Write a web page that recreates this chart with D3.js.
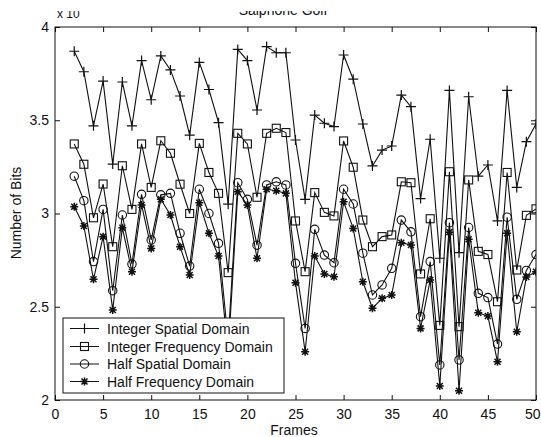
<!DOCTYPE html>
<html>
<head>
<meta charset="utf-8">
<script src="https://cdn.jsdelivr.net/npm/d3@7"></script>
<style>
  html, body { margin: 0; padding: 0; background: #fff; }
  svg { display: block; font-family: "Liberation Sans", Arial, Helvetica, sans-serif; }
</style>
</head>
<body>
<svg id="chart" width="541" height="437"></svg>
<script>
// ---- data (values in units of 10^4 bits) ----
const frames = [2,3,4,5,6,7,8,9,10,11,12,13,14,15,16,17,18,19,20,21,22,23,24,25,26,27,28,29,30,31,32,33,34,35,36,37,38,39,40,41,42,43,44,45,46,47,48,49,50];

const integerSpatial = [3.87,3.76,3.47,3.71,3.265,3.705,3.47,3.82,3.61,3.845,3.77,3.63,3.42,3.81,3.665,3.487,3.05,3.88,3.82,3.555,3.895,3.862,3.862,3.394,3.076,3.528,3.484,3.466,3.85,3.72,3.48,3.255,3.34,3.362,3.635,3.573,3.08,3.398,2.76,3.66,2.79,3.626,3.20,3.26,2.96,3.66,3.14,3.385,3.48];

const integerFrequency = [3.373,3.264,2.977,3.158,2.822,3.256,3.022,3.373,3.14,3.39,3.323,3.157,3.0,3.376,3.22,3.108,2.683,3.43,3.373,3.087,3.43,3.457,3.434,2.96,2.688,3.112,3.006,2.987,3.389,3.248,2.965,2.822,2.876,2.885,3.17,3.165,2.676,2.972,2.40,3.224,2.393,3.18,2.797,2.78,2.527,3.22,2.697,2.99,3.025];

const halfSpatial = [3.20,3.069,2.742,3.022,2.586,2.992,2.729,3.103,2.858,3.10,3.108,2.894,2.718,3.13,3.0,2.84,2.32,3.165,3.076,2.83,3.153,3.17,3.153,2.733,2.384,2.915,2.777,2.736,3.13,3.051,2.787,2.563,2.617,2.706,2.965,2.902,2.447,2.742,2.188,2.951,2.215,2.925,2.572,2.549,2.30,2.98,2.54,2.695,2.78];

const halfFrequency = [3.036,2.933,2.647,2.876,2.483,2.924,2.688,3.046,2.813,3.076,2.992,2.822,2.67,3.058,2.894,2.772,2.25,3.117,3.046,2.76,3.13,3.122,3.108,2.629,2.259,2.772,2.676,2.661,3.063,2.92,2.634,2.492,2.545,2.563,2.843,2.831,2.384,2.643,2.075,2.9,2.05,2.862,2.468,2.45,2.205,2.894,2.366,2.66,2.688];

const seriesNames = ["Integer Spatial Domain", "Integer Frequency Domain", "Half Spatial Domain", "Half Frequency Domain"];
const seriesMarkers = ["plus", "square", "circle", "star"];
const xTicks = [0,5,10,15,20,25,30,35,40,45,50];
const yTicks = [2,2.5,3,3.5,4];
const yTickLabels = ["2","2.5","3","3.5","4"];
const titleText = "Salphone Golf";
const xLabel = "Frames";
const yLabel = "Number of Bits";

// ---- layout ----
const svg = d3.select("#chart");
const L = 55, R = 536, T = 27, B = 400;
const x = d3.scaleLinear().domain([0, 50]).range([L, R]);
const y = d3.scaleLinear().domain([2, 4]).range([B, T]);
const ink = "#111";

const seriesData = [integerSpatial, integerFrequency, halfSpatial, halfFrequency];

// clip for the cut-off top of the scan
const defs = svg.append("defs");
defs.append("clipPath").attr("id", "topcut")
  .append("rect").attr("x", 0).attr("y", 11).attr("width", 541).attr("height", 426);
defs.append("clipPath").attr("id", "plotclip")
  .append("rect").attr("x", L).attr("y", T).attr("width", R - L).attr("height", B - T);

// axes
const fontSize = 14;
const axB = svg.append("g").attr("transform", `translate(0,${B})`)
  .call(d3.axisBottom(x).tickValues(xTicks).tickFormat(d3.format("d")).tickSizeInner(-5).tickSizeOuter(0).tickPadding(9));
const axT = svg.append("g").attr("transform", `translate(0,${T})`)
  .call(d3.axisTop(x).tickValues(xTicks).tickFormat("").tickSizeInner(-5).tickSizeOuter(0));
const axLft = svg.append("g").attr("transform", `translate(${L},0)`)
  .call(d3.axisLeft(y).tickValues(yTicks).tickFormat((d, i) => yTickLabels[i]).tickSizeInner(-5).tickSizeOuter(0).tickPadding(6));
const axRt = svg.append("g").attr("transform", `translate(${R},0)`)
  .call(d3.axisRight(y).tickValues(yTicks).tickFormat("").tickSizeInner(-5).tickSizeOuter(0));
[axB, axT, axLft, axRt].forEach(g => {
  g.select(".domain").remove();
  g.selectAll("line").attr("stroke", ink);
  g.selectAll("text").attr("fill", ink).style("font-size", fontSize + "px")
    .style("font-family", '"Liberation Sans", Arial, sans-serif');
});
// keep the last x label inside the page edge
axB.selectAll(".tick").filter(d => d === 50).select("text")
  .attr("text-anchor", "end").attr("x", 540 - R);

// frame
svg.append("rect").attr("x", L).attr("y", T).attr("width", R - L).attr("height", B - T)
  .attr("fill", "none").attr("stroke", ink).attr("stroke-width", 1);

// marker drawing
function drawMarker(g, type, cx, cy) {
  if (type === "plus") {
    g.append("path").attr("d", `M${cx-5},${cy}H${cx+5}M${cx},${cy-5}V${cy+5}`)
      .attr("stroke", ink).attr("stroke-width", 1.2).attr("fill", "none");
  } else if (type === "square") {
    g.append("rect").attr("x", cx - 4).attr("y", cy - 4).attr("width", 8).attr("height", 8)
      .attr("stroke", ink).attr("stroke-width", 1.1).attr("fill", "none");
  } else if (type === "circle") {
    g.append("circle").attr("cx", cx).attr("cy", cy).attr("r", 4.2)
      .attr("stroke", ink).attr("stroke-width", 1.1).attr("fill", "none");
  } else if (type === "star") {
    const s = 4, d = 3;
    g.append("path").attr("d", `M${cx-s},${cy}H${cx+s}M${cx},${cy-s}V${cy+s}M${cx-d},${cy-d}L${cx+d},${cy+d}M${cx-d},${cy+d}L${cx+d},${cy-d}`)
      .attr("stroke", ink).attr("stroke-width", 1.5).attr("fill", "none");
  }
}

// series
const plot = svg.append("g").attr("clip-path", "url(#plotclip)");
const line = d3.line().x((d, i) => x(frames[i])).y(d => y(d));
seriesData.forEach((vals, si) => {
  plot.append("path").datum(vals).attr("d", line)
    .attr("fill", "none").attr("stroke", ink).attr("stroke-width", 1.1);
  const mg = plot.append("g");
  vals.forEach((v, i) => drawMarker(mg, seriesMarkers[si], x(frames[i]), y(v)));
});

// legend
const lg = svg.append("g");
lg.append("rect").attr("x", 63).attr("y", 318).attr("width", 221).attr("height", 75)
  .attr("fill", "#fff").attr("stroke", ink).attr("stroke-width", 1);
const rowY = [328.5, 346.5, 364, 381.5];
seriesNames.forEach((name, i) => {
  const ry = rowY[i];
  lg.append("line").attr("x1", 70).attr("x2", 99).attr("y1", ry).attr("y2", ry)
    .attr("stroke", ink).attr("stroke-width", 1);
  drawMarker(lg, seriesMarkers[i], 84.5, ry);
  lg.append("text").attr("x", 107).attr("y", ry).attr("dy", "0.36em")
    .style("font-size", "14px").attr("fill", ink).text(name);
});

// axis labels
svg.append("text").attr("x", 294).attr("y", 435).attr("text-anchor", "middle")
  .style("font-size", "14px").attr("fill", ink).text(xLabel);
svg.append("text").attr("transform", "translate(21,213) rotate(-90)").attr("text-anchor", "middle")
  .style("font-size", "14px").attr("fill", ink).text(yLabel);

// title and exponent, cut off at the top like the scan
const headG = svg.append("g").attr("clip-path", "url(#topcut)");
headG.append("text").attr("x", 283).attr("y", 15).attr("text-anchor", "middle")
  .style("font-size", "14px").attr("fill", ink).text(titleText);
const ex = headG.append("text").attr("x", 57).attr("y", 18).style("font-size", "12px").attr("fill", ink);
ex.append("tspan").text("x 10");
ex.append("tspan").attr("dy", -8).style("font-size", "9px").text("4");
</script>
</body>
</html>
